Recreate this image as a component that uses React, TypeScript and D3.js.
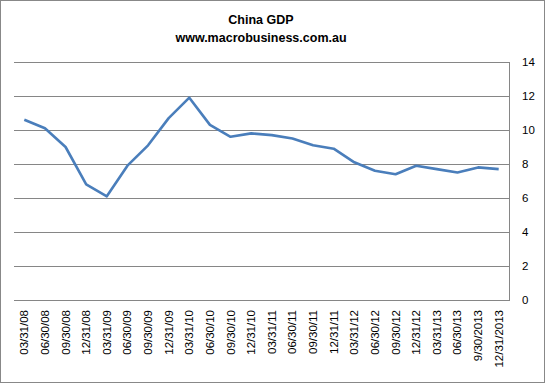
import React from "react";
import * as d3 from "d3";

const categories = [
  "03/31/08", "06/30/08", "09/30/08", "12/31/08",
  "03/31/09", "06/30/09", "09/30/09", "12/31/09",
  "03/31/10", "06/30/10", "09/30/10", "12/31/10",
  "03/31/11", "06/30/11", "09/30/11", "12/31/11",
  "03/31/12", "06/30/12", "09/30/12", "12/31/12",
  "03/31/13", "06/30/13", "9/30/2013", "12/31/2013",
];
const gdp = [
  10.6, 10.1, 9.0, 6.8,
  6.1, 7.9, 9.1, 10.7,
  11.9, 10.3, 9.6, 9.8,
  9.7, 9.5, 9.1, 8.9,
  8.1, 7.6, 7.4, 7.9,
  7.7, 7.5, 7.8, 7.7,
];
const yTicks = [0, 2, 4, 6, 8, 10, 12, 14];
const titleLines = ["China GDP", "www.macrobusiness.com.au"];

const W = 545;
const H = 383;
const plot = { left: 14, right: 509, top: 62, bottom: 300 };
const FONT = "'Liberation Sans', Arial, sans-serif";

export default function App() {
  const x = d3
    .scaleBand<string>()
    .domain(categories)
    .range([plot.left, plot.right]);
  const y = d3.scaleLinear().domain([0, 14]).range([plot.bottom, plot.top]);
  const line = d3
    .line<number>()
    .x((_, i) => (x(categories[i]) as number) + x.bandwidth() / 2)
    .y((d) => y(d));

  return (
    <svg
      width={W}
      height={H}
      style={{ position: "absolute", left: 0, top: 0, display: "block" }}
      fontFamily={FONT}
    >
      <rect x={0} y={0} width={W} height={H} fill="#fff" />
      <rect x={0.5} y={0.5} width={W - 1} height={H - 1} fill="none" stroke="#888" />
      {yTicks.map((t) => (
        <line
          key={"g" + t}
          x1={plot.left}
          x2={plot.right}
          y1={Math.round(y(t)) + 0.5}
          y2={Math.round(y(t)) + 0.5}
          stroke="#868686"
          strokeWidth={1}
        />
      ))}
      <line
        x1={plot.right + 0.5}
        x2={plot.right + 0.5}
        y1={plot.top}
        y2={plot.bottom + 1}
        stroke="#868686"
      />
      {yTicks.map((t) => (
        <text
          key={"t" + t}
          x={522}
          y={y(t)}
          dy="0.35em"
          fontSize={11.5}
          fill="#000"
        >
          {t}
        </text>
      ))}
      {categories.map((c) => {
        const cx = (x(c) as number) + x.bandwidth() / 2;
        return (
          <text
            key={c}
            transform={`translate(${cx + 4},${310}) rotate(-90)`}
            textAnchor="end"
            fontSize={11.5}
            fill="#000"
          >
            {c}
          </text>
        );
      })}
      <path
        d={line(gdp) || ""}
        fill="none"
        stroke="#4A7EBB"
        strokeWidth={2.6}
        strokeLinejoin="round"
      />
      {titleLines.map((t, i) => (
        <text
          key={t}
          x={261}
          y={24 + i * 17.5}
          textAnchor="middle"
          fontSize={12.5}
          fontWeight="bold"
          fill="#000"
        >
          {t}
        </text>
      ))}
    </svg>
  );
}
